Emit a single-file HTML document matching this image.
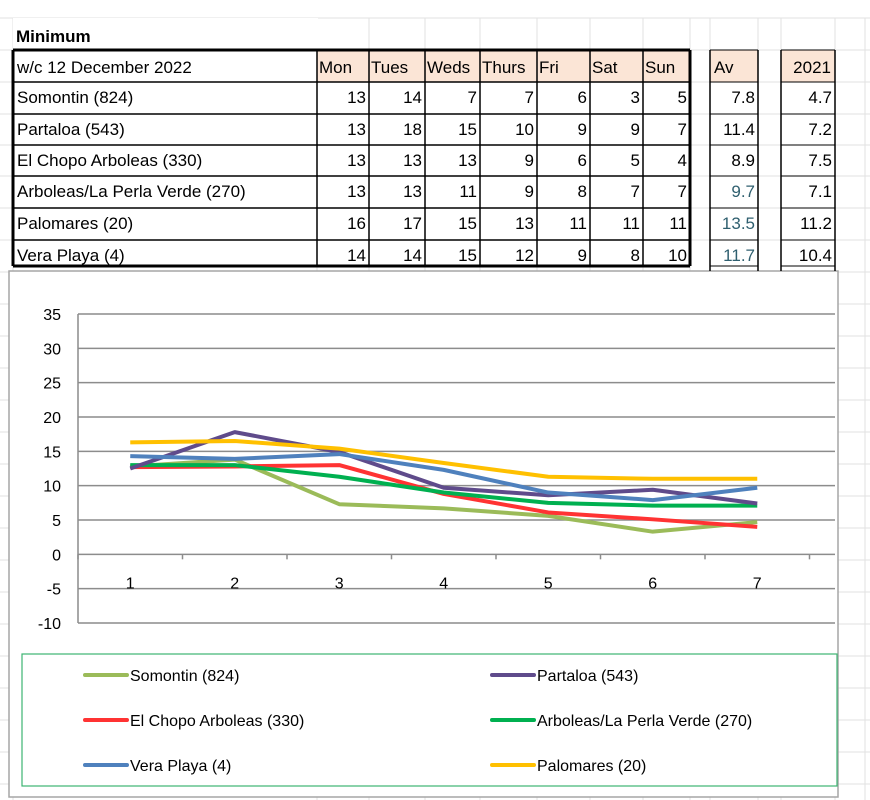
<!DOCTYPE html>
<html><head><meta charset="utf-8"><style>
body{margin:0;background:#fff;width:870px;height:800px;overflow:hidden;font-family:"Liberation Sans",sans-serif}
svg{display:block}
</style></head><body>
<svg id="s" width="870" height="800" xmlns="http://www.w3.org/2000/svg">
<g id="bg"></g>
<g id="chart"></g>
<g id="tbl"></g>
</svg>
<script>
const days=["Mon","Tues","Weds","Thurs","Fri","Sat","Sun"];
const stations=["Somontin (824)","Partaloa (543)","El Chopo Arboleas (330)","Arboleas/La Perla Verde (270)","Palomares (20)","Vera Playa (4)"];
const tableVals=[[13,14,7,7,6,3,5],[13,18,15,10,9,9,7],[13,13,13,9,6,5,4],[13,13,11,9,8,7,7],[16,17,15,13,11,11,11],[14,14,15,12,9,8,10]];
const avVals=["7.8","11.4","8.9","9.7","13.5","11.7"];
const prevVals=["4.7","7.2","7.5","7.1","11.2","10.4"];
const categories=[1,2,3,4,5,6,7];
const somontin=[12.8,13.8,7.3,6.7,5.6,3.3,4.7];
const partaloa=[12.5,17.8,14.9,9.7,8.6,9.4,7.4];
const elChopo=[12.7,12.8,13,8.8,6.1,5.1,4.0];
const arboleas=[13,13,11.3,9,7.5,7.1,7.1];
const veraPlaya=[14.3,13.9,14.6,12.3,9,7.9,9.7];
const palomares=[16.3,16.5,15.4,13.3,11.3,11,11];
const yTicks=[35,30,25,20,15,10,5,0,-5,-10];

const NS="http://www.w3.org/2000/svg";
function mk(p,t,a,txt){const e=document.createElementNS(NS,t);for(const k in a)e.setAttribute(k,a[k]);if(txt!==undefined)e.textContent=txt;p.appendChild(e);return e;}
const bg=document.getElementById('bg'),tb=document.getElementById('tbl'),ch=document.getElementById('chart');
[13,317,369,425,480,537,590,643,690,710,758,781,835,865].forEach(x=>{const l=mk(bg,'line',{x1:x,y1:18,x2:x,y2:800,stroke:'#e2e2e2'});

});
[18,50,82,114,145,176,208,240,272,304,336,368,400,432,464,496,528,560,592,624,656,688,720,752,784].forEach(y=>{const l=mk(bg,'line',{x1:0,y1:y,x2:870,y2:y,stroke:'#e2e2e2'});

});
const colX=[317,369,425,480,537,590,643,690];
const rowY=[50,82,114,145,176,208,240,266];
const FS=17;
function T(p,x,y,s,extra){return mk(p,'text',Object.assign({x:x,y:y,'font-size':FS},extra||{}),s);}
mk(tb,'rect',{x:13,y:18,width:305,height:32,fill:'#fff'});
const t0=T(tb,16,42,'Minimum',{'font-weight':'bold'});


for(let i=0;i<7;i++){const r=mk(tb,'rect',{x:colX[i],y:50,width:colX[i+1]-colX[i],height:32,fill:'#fbe5d6'});

}
mk(tb,'rect',{x:710,y:50,width:48,height:32,fill:'#fbe5d6'});
mk(tb,'rect',{x:781,y:50,width:54,height:32,fill:'#fbe5d6'});
const hd=T(tb,17,73,'w/c  12 December 2022');


days.forEach((d,i)=>{const t=T(tb,colX[i]+2,73,d);

});
const av=T(tb,714,73,'Av');


const yr=T(tb,831,73,'2021',{'text-anchor':'end'});


stations.forEach((s,r)=>{const y=rowY[r+1]+21;
const t=T(tb,17,y,s);


tableVals[r].forEach((v,i)=>{const c=T(tb,colX[i+1]-3,y,v,{'text-anchor':'end'});

});
const a=T(tb,755,y,avVals[r],{'text-anchor':'end',fill:r>=3?'#2f5f6f':'#000'});


const p=T(tb,832,y,prevVals[r],{'text-anchor':'end'});

});
rowY.forEach((y,i)=>{mk(tb,'line',{x1:13,y1:y,x2:690,y2:y,stroke:'#000','stroke-width':i==0||i==7?3:1.5});
mk(tb,'line',{x1:710,y1:y,x2:758,y2:y,stroke:'#000','stroke-width':1});
mk(tb,'line',{x1:781,y1:y,x2:835,y2:y,stroke:'#000','stroke-width':1});});
[13,317,369,425,480,537,590,643,690].forEach((x,i)=>mk(tb,'line',{x1:x,y1:50,x2:x,y2:266,stroke:'#000','stroke-width':i==0||i==8?3:1.5}));
[710,758,781,835].forEach(x=>mk(tb,'line',{x1:x,y1:50,x2:x,y2:271,stroke:'#000','stroke-width':1.5}));
const box=mk(ch,'rect',{x:9,y:271,width:829,height:526,fill:'#fff',stroke:'#a6a6a6','stroke-width':1.5});


const L=78,GR=835,Y35=314,Ym10=623;
const cw=104.5;
const yS=v=>Y35+(35-v)*(Ym10-Y35)/45;
const xS=i=>L+cw*(i+0.5);
yTicks.forEach(v=>{const g=mk(ch,'line',{x1:L,y1:yS(v),x2:GR,y2:yS(v),stroke:'#8c8c8c','stroke-width':1.5});


const t=mk(ch,'text',{x:61,y:yS(v)+6,'font-size':16,'text-anchor':'end'},v);

});
mk(ch,'line',{x1:L,y1:yS(35),x2:L,y2:yS(-10),stroke:'#8c8c8c','stroke-width':1.5});
for(let i=0;i<=categories.length;i++)mk(ch,'line',{x1:L+cw*i,y1:yS(0),x2:L+cw*i,y2:yS(0)+5,stroke:'#8c8c8c','stroke-width':1.5});
categories.forEach((c,i)=>{const t=mk(ch,'text',{x:xS(i),y:yS(0)+34,'font-size':16,'text-anchor':'middle'},c);

});
const series=[[somontin,'#9bbb59','Somontin (824)'],[partaloa,'#5f4b8b','Partaloa (543)'],[elChopo,'#ff3333','El Chopo Arboleas (330)'],[arboleas,'#00b050','Arboleas/La Perla Verde (270)'],[veraPlaya,'#4f81bd','Vera Playa (4)'],[palomares,'#ffc000','Palomares (20)']];
const order=[0,2,3,1,4,5];
order.forEach(k=>{const [d,c]=series[k];
const p=mk(ch,'polyline',{points:d.map((v,i)=>xS(i)+','+yS(v)).join(' '),fill:'none',stroke:c,'stroke-width':4,'stroke-linejoin':'round'});

});
const lg=mk(ch,'rect',{x:22,y:654,width:815,height:132,fill:'none',stroke:'#3cb371','stroke-width':1.2});


const legPos=[[85,675],[492,675],[85,720],[492,720],[85,765],[492,765]];
[0,1,2,3,4,5].forEach((k,j)=>{const [d,c,n]=series[k];const [x,y]=legPos[j];
const g=mk(ch,'g',{});


mk(g,'line',{x1:x,y1:y,x2:x+42,y2:y,stroke:c,'stroke-width':4,'stroke-linecap':'round'});
mk(g,'text',{x:x+45,y:y+6,'font-size':16},n);});
</script>
</body></html>
